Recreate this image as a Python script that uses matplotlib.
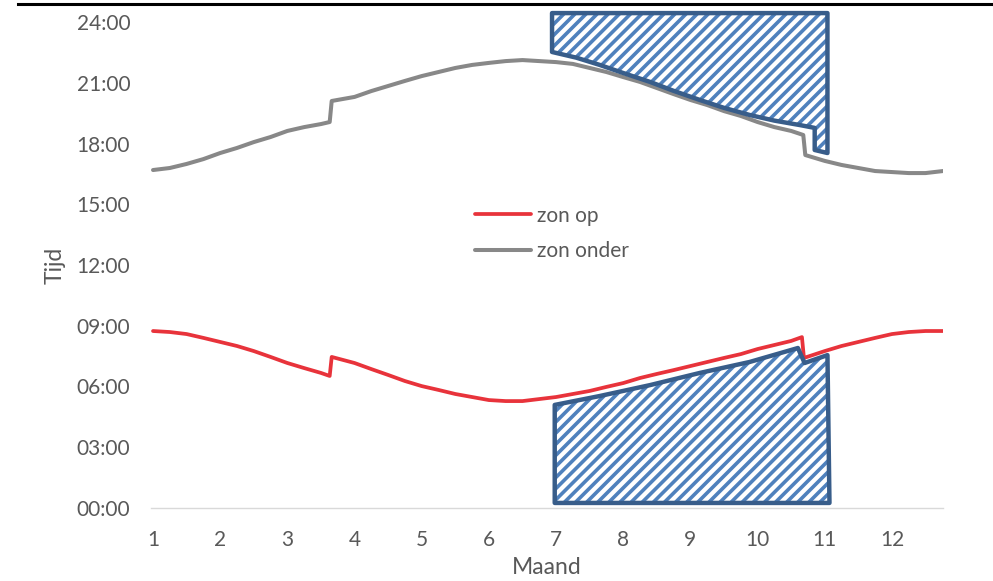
import matplotlib
matplotlib.use("Agg")
import matplotlib.pyplot as plt
from matplotlib.patches import Polygon
from matplotlib.lines import Line2D
from matplotlib.ticker import FuncFormatter, MultipleLocator

plt.rcParams['font.family'] = ['Lato', 'DejaVu Sans']
plt.rcParams['hatch.linewidth'] = 2.6

# Month position (1 = start of January) and times in decimal hours
maand_onder = [1.0, 1.25, 1.5, 1.75, 2.0, 2.25, 2.5, 2.75, 3.0, 3.25, 3.5, 3.63,
               3.66, 4.0, 4.25, 4.5, 4.75, 5.0, 5.25, 5.5, 5.75, 6.0, 6.25, 6.5,
               6.75, 7.0, 7.25, 7.5, 7.75, 8.0, 8.25, 8.5, 8.75, 9.0, 9.25, 9.5,
               9.75, 10.0, 10.25, 10.5, 10.68, 10.71, 11.0, 11.25, 11.5, 11.75,
               12.0, 12.25, 12.5, 12.76]
zon_onder = [16.69, 16.79, 16.99, 17.23, 17.53, 17.78, 18.07, 18.32, 18.62, 18.81,
             18.96, 19.06, 20.10, 20.30, 20.59, 20.84, 21.09, 21.33, 21.53, 21.73,
             21.88, 21.98, 22.07, 22.12, 22.07, 22.02, 21.93, 21.73, 21.53, 21.28,
             21.04, 20.74, 20.44, 20.15, 19.90, 19.60, 19.36, 19.06, 18.81, 18.62,
             18.42, 17.43, 17.14, 16.94, 16.79, 16.64, 16.59, 16.54, 16.54, 16.64]

maand_op = [1.0, 1.25, 1.5, 1.75, 2.0, 2.25, 2.5, 2.75, 3.0, 3.25, 3.5, 3.63,
            3.66, 4.0, 4.25, 4.5, 4.75, 5.0, 5.25, 5.5, 5.75, 6.0, 6.25, 6.5,
            6.75, 7.0, 7.25, 7.5, 7.75, 8.0, 8.25, 8.5, 8.75, 9.0, 9.25, 9.5,
            9.75, 10.0, 10.25, 10.5, 10.66, 10.69, 11.0, 11.25, 11.5, 11.75,
            12.0, 12.25, 12.5, 12.76]
zon_op = [8.74, 8.69, 8.59, 8.40, 8.20, 8.00, 7.75, 7.46, 7.16, 6.91, 6.67, 6.52,
          7.46, 7.16, 6.86, 6.57, 6.27, 6.02, 5.83, 5.63, 5.48, 5.33, 5.28, 5.28,
          5.38, 5.48, 5.63, 5.78, 5.98, 6.17, 6.42, 6.62, 6.81, 7.01, 7.21, 7.41,
          7.60, 7.85, 8.05, 8.25, 8.44, 7.41, 7.75, 8.00, 8.20, 8.40, 8.59, 8.69,
          8.74, 8.74]

# Evening zone (after sunset, July - October)
avond_x = [6.94, 6.94, 7.3, 7.65, 8.0, 8.40, 8.75, 9.14, 9.5, 9.88, 10.25, 10.63,
           10.85, 10.85, 11.04, 11.04]
avond_y = [24.44, 22.52, 22.24, 21.88, 21.48, 21.04, 20.60, 20.15, 19.76, 19.41,
           19.13, 18.91, 18.77, 17.68, 17.53, 24.44]

# Morning zone (before sunrise, July - October)
ochtend_x = [6.98, 7.65, 8.40, 9.14, 9.88, 10.60, 10.70, 11.04, 11.07, 6.98]
ochtend_y = [5.09, 5.53, 6.07, 6.67, 7.21, 7.90, 7.16, 7.55, 0.25, 0.25]

maand_ticks = list(range(1, 13))

W, H = 993, 581
fig = plt.figure(figsize=(W / 100, H / 100), dpi=100)
ax = fig.add_axes([151 / W, (H - 508) / H, 792 / W, 486 / H])

tekst = '#595959'
hatch_kleur = '#4F81BD'
rand_kleur = '#385D8A'

for xs, ys in [(avond_x, avond_y), (ochtend_x, ochtend_y)]:
    pts = list(zip(xs, ys))
    ax.add_patch(Polygon(pts, closed=True, facecolor='white', edgecolor=hatch_kleur,
                         hatch='///', linewidth=0, clip_on=False, zorder=2))
    ax.add_patch(Polygon(pts, closed=True, fill=False, edgecolor=rand_kleur,
                         linewidth=3.2, joinstyle='round', clip_on=False, zorder=4))

ax.plot(maand_op, zon_op, color='#E8333B', lw=2.7, solid_joinstyle='round',
        solid_capstyle='round', label='zon op', zorder=3)
ax.plot(maand_onder, zon_onder, color='#888888', lw=2.9, solid_joinstyle='round',
        solid_capstyle='round', label='zon onder', zorder=3)

ax.set_xlim(0.97, 12.76)
ax.set_ylim(0, 24)
ax.yaxis.set_major_locator(MultipleLocator(3))
ax.yaxis.set_major_formatter(FuncFormatter(lambda v, p: f"{int(round(v)):02d}:00"))
ax.set_xticks(maand_ticks)
ax.tick_params(axis='both', length=0, labelsize=15, colors=tekst)
ax.tick_params(axis='y', pad=15)
ax.tick_params(axis='x', pad=16)

for s in ['top', 'right', 'left']:
    ax.spines[s].set_visible(False)
ax.spines['bottom'].set_color('#D9D9D9')
ax.spines['bottom'].set_linewidth(1.0)

ax.set_xlabel('Maand', fontsize=16.5, color=tekst, labelpad=5)
ax.set_ylabel('Tijd', fontsize=16.5, color=tekst, labelpad=8)

leg = ax.legend(loc='upper left', bbox_to_anchor=(0.386, 0.661), frameon=False,
                fontsize=15, handlelength=2.65, handletextpad=0.3, labelspacing=0.75,
                labelcolor=tekst)

fig.add_artist(Line2D([18 / W, 1.0], [1 - 4 / H, 1 - 4 / H], color='black', lw=2.2))

fig.savefig('out.png', dpi=100, facecolor='white')
